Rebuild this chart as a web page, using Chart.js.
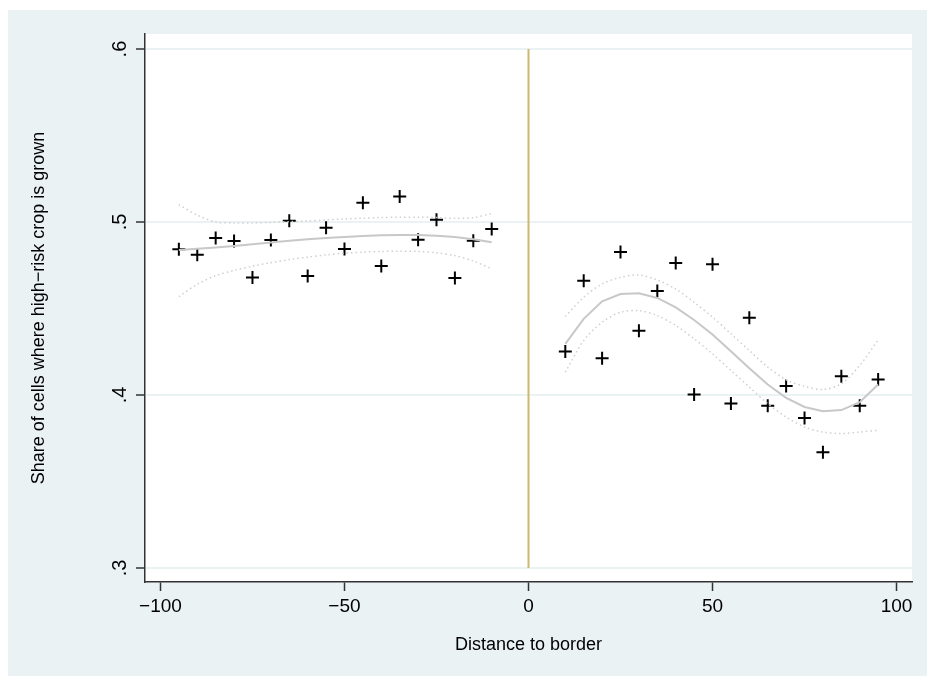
<!DOCTYPE html>
<html>
<head>
<meta charset="utf-8">
<script src="https://cdn.jsdelivr.net/npm/chart.js@4.4.1/dist/chart.umd.min.js"></script>
<style>
  html, body { margin: 0; padding: 0; background: #ffffff; overflow: hidden; }
  #wrap { position: relative; width: 927px; height: 676px; }
</style>
</head>
<body>
<div id="wrap"><canvas id="rdChart"></canvas></div>
<script>
// bins on each side of the border
const xLeft = [-95, -90, -85, -80, -75, -70, -65, -60, -55, -50, -45, -40, -35, -30, -25, -20, -15, -10];
const xRight = [10, 15, 20, 25, 30, 35, 40, 45, 50, 55, 60, 65, 70, 75, 80, 85, 90, 95];

// bin means
const meanLeft = [.4843, .4811, .4908, .4890, .4680, .4896, .5007, .4688, .4967, .4844, .5111, .4746, .5148, .4898, .5013, .4677, .4892, .4960];
const meanRight = [.4252, .4661, .4213, .4827, .4371, .4602, .4763, .4003, .4756, .3951, .4446, .3938, .4052, .3867, .3669, .4109, .3938, .4090];

// fitted values and confidence band
const fitLeft = [.4838, .4845, .4853, .4862, .4872, .4882, .4892, .4900, .4908, .4914, .4919, .4923, .4925, .4925, .4921, .4913, .4900, .4883];
const hiLeft = [.5100, .5040, .5000, .4995, .4995, .4998, .5002, .5006, .5012, .5018, .5022, .5026, .5028, .5028, .5026, .5022, .5025, .5050];
const loLeft = [.4569, .4640, .4690, .4720, .4745, .4765, .4783, .4797, .4810, .4820, .4826, .4830, .4831, .4830, .4822, .4806, .4775, .4729];

const fitRight = [.4296, .4440, .4542, .4584, .4588, .4561, .4507, .4434, .4350, .4253, .4155, .4061, .3984, .3931, .3906, .3913, .3959, .4061];
const hiRight = [.4454, .4565, .4642, .4680, .4694, .4665, .4613, .4536, .4450, .4354, .4257, .4161, .4088, .4050, .4032, .4065, .4171, .4319];
const loRight = [.4132, .4315, .4421, .4479, .4488, .4459, .4402, .4325, .4238, .4142, .4046, .3950, .3873, .3815, .3786, .3777, .3786, .3796];

const xTicks = [-100, -50, 0, 50, 100];
const yTicks = [.3, .4, .5, .6];
const cutoff = 0;

function pts(xs, ys) {
  return xs.map(function (x, i) { return { x: x, y: ys[i] }; });
}

const FONT = "'Liberation Sans', Arial, Helvetica, sans-serif";
const bgColor = '#eaf2f3';

// outer stata-like background and white plot region
const backdrop = {
  id: 'backdrop',
  beforeDraw: function (chart) {
    const ctx = chart.ctx;
    const a = chart.chartArea;
    ctx.save();
    ctx.fillStyle = '#ffffff';
    ctx.fillRect(0, 0, chart.width, chart.height);
    ctx.fillStyle = bgColor;
    ctx.fillRect(8, 10, chart.width - 8, chart.height - 10);
    ctx.fillStyle = '#ffffff';
    ctx.fillRect(a.left, a.top, a.right - a.left, a.bottom - a.top);
    ctx.restore();
  }
};

// vertical y tick labels (stata style)
const yLabels = {
  id: 'yLabels',
  afterDraw: function (chart) {
    const ctx = chart.ctx;
    const sc = chart.scales.y;
    ctx.save();
    ctx.fillStyle = '#000000';
    ctx.font = '20px ' + FONT;
    ctx.textAlign = 'center';
    ctx.textBaseline = 'middle';
    yTicks.forEach(function (v) {
      const py = sc.getPixelForValue(v);
      ctx.save();
      ctx.translate(120, py);
      ctx.rotate(-Math.PI / 2);
      ctx.fillText(String(v).replace(/^0/, ''), 0, 0);
      ctx.restore();
    });
    ctx.restore();
  }
};

const dotted = {
  borderColor: '#cfcfcf',
  borderWidth: 1.5,
  borderDash: [1.5, 3],
  pointRadius: 0,
  showLine: true,
  fill: false,
  tension: 0.3
};

const fitStyle = {
  borderColor: '#c8c8c8',
  borderWidth: 2,
  pointRadius: 0,
  showLine: true,
  fill: false,
  tension: 0
};

const crossStyle = {
  pointStyle: 'cross',
  pointRadius: 6.5,
  borderColor: '#000000',
  backgroundColor: '#000000',
  borderWidth: 2,
  showLine: false
};

new Chart(document.getElementById('rdChart'), {
  type: 'scatter',
  data: {
    datasets: [
      { data: [{ x: cutoff, y: .3 }, { x: cutoff, y: .6 }], borderColor: '#cdb870', borderWidth: 2, pointRadius: 0, showLine: true },
      Object.assign({ data: pts(xLeft, hiLeft) }, dotted),
      Object.assign({ data: pts(xLeft, loLeft) }, dotted),
      Object.assign({ data: pts(xRight, hiRight) }, dotted),
      Object.assign({ data: pts(xRight, loRight) }, dotted),
      Object.assign({ data: pts(xLeft, fitLeft) }, fitStyle),
      Object.assign({ data: pts(xRight, fitRight) }, fitStyle),
      Object.assign({ data: pts(xLeft, meanLeft) }, crossStyle),
      Object.assign({ data: pts(xRight, meanRight) }, crossStyle)
    ]
  },
  options: {
    responsive: true,
    maintainAspectRatio: false,
    animation: false,
    devicePixelRatio: 1,
    layout: { padding: { top: 34, right: 15, left: 0, bottom: 0 } },
    plugins: {
      legend: { display: false },
      tooltip: { enabled: false }
    },
    scales: {
      x: {
        type: 'linear',
        min: -104.2,
        max: 104.2,
        afterBuildTicks: function (scale) {
          scale.ticks = xTicks.map(function (v) { return { value: v }; });
        },
        afterFit: function (scale) { scale.height = 94; },
        grid: {
          display: true,
          drawOnChartArea: false,
          drawTicks: true,
          tickLength: 9,
          tickWidth: 1.5,
          tickColor: '#333333'
        },
        border: { display: true, color: '#333333', width: 1.5 },
        ticks: {
          color: '#000000',
          padding: 4,
          maxRotation: 0,
          font: { family: FONT, size: 19 },
          callback: function (v) { return String(v).replace('-', '\u2212'); }
        },
        title: {
          display: true,
          text: 'Distance to border',
          color: '#000000',
          font: { family: FONT, size: 18 },
          padding: { top: 0, bottom: 20.2 }
        }
      },
      y: {
        type: 'linear',
        min: 0.2919,
        max: 0.6087,
        afterBuildTicks: function (scale) {
          scale.ticks = yTicks.map(function (v) { return { value: v }; });
        },
        afterFit: function (scale) { scale.width = 145; },
        grid: {
          display: true,
          drawOnChartArea: true,
          color: bgColor,
          lineWidth: 2,
          drawTicks: true,
          tickLength: 9,
          tickWidth: 1.5,
          tickColor: '#333333'
        },
        border: { display: true, color: '#333333', width: 1.5 },
        ticks: { display: false },
        title: {
          display: true,
          text: 'Share of cells where high\u2212risk crop is grown',
          color: '#000000',
          font: { family: FONT, size: 18 },
          padding: { top: 28.2, bottom: 0 }
        }
      }
    }
  },
  plugins: [backdrop, yLabels]
});
</script>
</body>
</html>
